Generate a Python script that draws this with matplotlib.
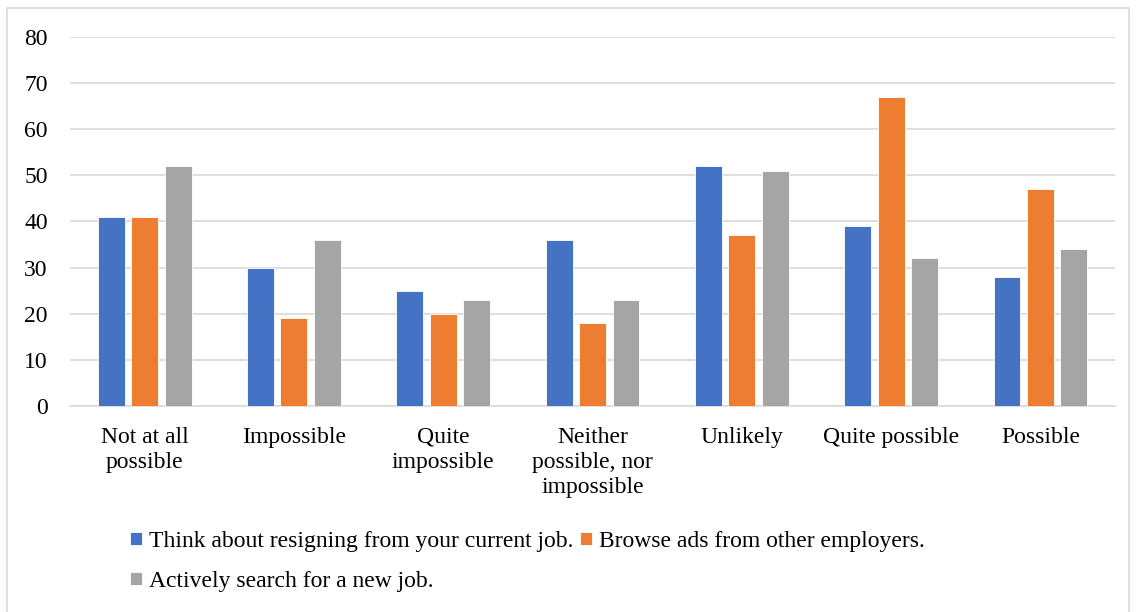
import matplotlib.pyplot as plt
import numpy as np
from matplotlib.patches import Rectangle

categories = ['Not at all\npossible', 'Impossible', 'Quite\nimpossible',
              'Neither\npossible, nor\nimpossible', 'Unlikely',
              'Quite possible', 'Possible']
think = [41, 30, 25, 36, 52, 39, 28]
browse = [41, 19, 20, 18, 37, 67, 47]
search = [52, 36, 23, 23, 51, 32, 34]
series_names = ['Think about resigning from your current job.',
                'Browse ads from other employers.',
                'Actively search for a new job.']
colors = ['#4472c4', '#ed7d31', '#a5a5a5']

plt.rcParams['font.family'] = 'Liberation Serif'

fig = plt.figure(figsize=(11.36, 6.12), dpi=100)
ax = fig.add_axes([0.0616, 0.3366, 0.92, 0.603])

x = np.arange(len(categories))
w = 0.18
step = 0.224
bars = []
for i, (vals, c) in enumerate(zip([think, browse, search], colors)):
    b = ax.bar(x + (i - 1) * step, vals, w, color=c, edgecolor='white',
               linewidth=0.6, zorder=3, label=series_names[i])
    bars.append(b)

ax.set_xlim(-0.5, len(categories) - 0.5)
ax.set_ylim(0, 80)
ax.set_yticks(range(0, 81, 10))
ax.grid(axis='y', color='#d9d9d9', linewidth=1.2, zorder=0)
for s in ['top', 'right', 'left']:
    ax.spines[s].set_visible(False)
ax.spines['bottom'].set_color('#d9d9d9')
ax.spines['bottom'].set_linewidth(1.2)
ax.tick_params(length=0)
ax.tick_params(axis='y', labelsize=17, pad=16)
ax.set_xticks(x)
ax.set_xticklabels(categories, fontsize=17, linespacing=1.25)
ax.tick_params(axis='x', pad=15)

# legend: two rows, blue & orange on top, gray below
fig.legend([bars[0], bars[2], bars[1]],
           [series_names[0], series_names[2], series_names[1]],
           ncol=2, loc='upper left', bbox_to_anchor=(0.0955, 0.167),
           frameon=False, fontsize=17, handlelength=0.5, handleheight=0.5,
           handletextpad=0.3, columnspacing=0.3, labelspacing=0.8)

fig.patches.append(Rectangle((0.006, -0.01), 0.988, 0.997,
                             transform=fig.transFigure, fill=False,
                             edgecolor='#d9d9d9', linewidth=1.2))

fig.savefig('out.png', dpi=100)
